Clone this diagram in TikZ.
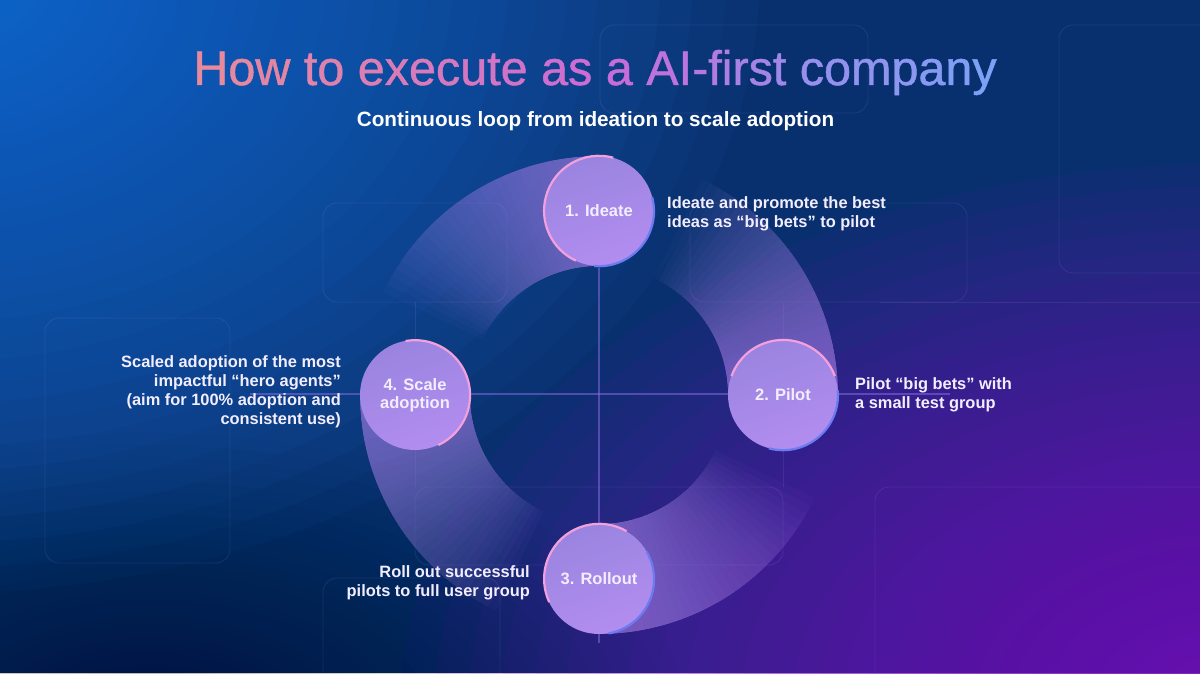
\documentclass[tikz,border=0pt]{standalone}
\usepackage{fontspec}
\setmainfont{Liberation Sans}
\newfontfamily\titlefont{Liberation Sans}[FakeBold=0.9]

\definecolor{bgbase}{HTML}{08306E}
\definecolor{glowblue}{HTML}{1F74E2}
\definecolor{glowpurple}{HTML}{7410BA}
\definecolor{band}{HTML}{B08CF0}
\definecolor{facetop}{HTML}{9A84E0}
\definecolor{facebot}{HTML}{B28DEF}
\definecolor{rimpink}{HTML}{F4A0DC}
\definecolor{rimblue}{HTML}{6B7BF2}
\definecolor{gridc}{HTML}{8C6FE6}
\definecolor{tpink}{HTML}{E88A9C}
\definecolor{tmag}{HTML}{C96AD8}
\definecolor{tblue}{HTML}{7EA0F6}
\definecolor{txt}{HTML}{F3EEFF}

% gradient-coloured title, letter by letter
\newcount\gtidx
\newcommand{\gtletter}[1]{%
  \pgfmathsetmacro\gtt{\the\gtidx/35*100}%
  \ifdim\gtt pt<50pt
    \pgfmathsetmacro\gtp{\gtt*2}\textcolor{tmag!\gtp!tpink}{#1}%
  \else
    \pgfmathsetmacro\gtp{(\gtt-50)*2}\textcolor{tblue!\gtp!tmag}{#1}%
  \fi
  \global\advance\gtidx by 1\relax}
\def\gtend{\gtend}
\def\gtloop#1{\ifx#1\gtend\else\gtletter{#1}\expandafter\gtloop\fi}

% soft radial glow made of nested translucent ellipses
\newcommand{\softglow}[6]{%
  \foreach \k in {1,...,48}{%
    \pgfmathsetmacro\s{(\k/48)^2}%
    \fill[#5, opacity=#6] (#1,#2) ellipse ({#3*\s} and {#4*\s});
  }}

% fading tube tail behind a stage
\newcommand{\tailarc}[1]{%
  \foreach \k in {1,...,30}{%
    \pgfmathsetmacro\te{#1+2.15*\k}%
    \fill[band, opacity=0.036] (C) ++(#1:129) arc[start angle=#1, end angle=\te, radius=129pt]
      -- ++(\te:110) arc[start angle=\te, end angle=#1, radius=239pt] -- cycle;
  }}

\begin{document}
\begin{tikzpicture}[x=1pt, y=1pt,
  gridline/.style={draw=gridc, line width=1.2pt, opacity=0.5},
  tile/.style={draw=gridc!70!white, line width=0.9pt, opacity=0.12, rounded corners=14pt},
  stage/.style={circle, minimum size=110pt, inner sep=0pt, top color=facetop, bottom color=facebot,
    shading angle=20, text=txt, font=\bfseries\fontsize{16.5}{18.5}\selectfont, align=center},
  desc/.style={text=txt, inner sep=0pt, font=\bfseries\fontsize{16.4}{19}\selectfont},
  rimp/.style={draw=rimpink, line width=2.2pt},
  rimb/.style={draw=rimblue, line width=2.2pt}]
\useasboundingbox (0,0) rectangle (1200,673);

% background
\fill[bgbase] (0,0) rectangle (1200,673);
\begin{scope}
  \clip (0,0) rectangle (1200,673);
  \softglow{-60}{700}{820}{620}{glowblue}{0.052}
  \softglow{1240}{-30}{840}{540}{glowpurple}{0.066}
  \softglow{150}{-60}{540}{300}{black}{0.01}
  % faint tiles
  \draw[tile] (323,470) rectangle (507,371);
  \draw[tile] (690,470) rectangle (967,371);
  \draw[tile] (415,186) rectangle (783,108);
  \draw[tile] (875,186) rectangle (1230,-30);
  \draw[tile] (45,355) rectangle (230,110);
  \draw[tile] (323,95) rectangle (500,-30);
  \draw[tile] (600,648) rectangle (868,560);
  \draw[tile] (1059,648) rectangle (1230,400);
  \draw[tile] (415,371) -- (415,186);
  \draw[tile] (783,371) -- (783,186);
  \draw[tile] (880,371) -- (1200,371);
\end{scope}

% centre
\coordinate (C) at (599,278);

% grid cross
\draw[gridline] (599,405) -- (599,30);
\draw[gridline] (250,279) -- (950,279);

% tube tails
\tailarc{90}
\tailarc{0}
\tailarc{270}
\tailarc{180}

% stages
\node[stage] (n1) at (599,462) {1. Ideate};
\node[stage] (n2) at (783,278) {2. Pilot};
\node[stage] (n3) at (599,94) {3. Rollout};
\node[stage] (n4) at (415,278) {4. Scale\\adoption};

% rims
\draw[rimp] (n1.75) arc[start angle=75, end angle=245, radius=55pt];
\draw[rimb] (n1.265) arc[start angle=265, end angle=375, radius=55pt];
\draw[rimp] (n2.20) arc[start angle=20, end angle=160, radius=55pt];
\draw[rimb] (n2.255) arc[start angle=255, end angle=365, radius=55pt];
\draw[rimp] (n3.60) arc[start angle=60, end angle=205, radius=55pt];
\draw[rimb] (n3.280) arc[start angle=280, end angle=390, radius=55pt];
\draw[rimp] (n4.-65) arc[start angle=-65, end angle=100, radius=55pt];

% title and subtitle
\node[anchor=base, inner sep=0pt, font=\titlefont\fontsize{48.5}{55}\selectfont] (title) at (595,588)
  {\global\gtidx=0 \gtloop How~to~execute~as~a~AI-first~company\gtend};
\node[anchor=base, inner sep=0pt, text=white, font=\bfseries\fontsize{20.7}{24}\selectfont] (sub) at (595.5,546)
  {Continuous loop from ideation to scale adoption};

% descriptions
\node[desc, anchor=west, align=left] (d1) at (667,459.5)
  {Ideate and promote the best\\ideas as “big bets” to pilot};
\node[desc, anchor=west, align=left] (d2) at (855,278.5)
  {Pilot “big bets” with\\a small test group};
\node[desc, anchor=east, align=right] (d3) at (530,90.5)
  {Roll out successful\\pilots to full user group};
\node[desc, anchor=east, align=right] (d4) at (341,281)
  {Scaled adoption of the most\\impactful “hero agents”\\(aim for 100\% adoption and\\consistent use)};
\end{tikzpicture}
\end{document}
